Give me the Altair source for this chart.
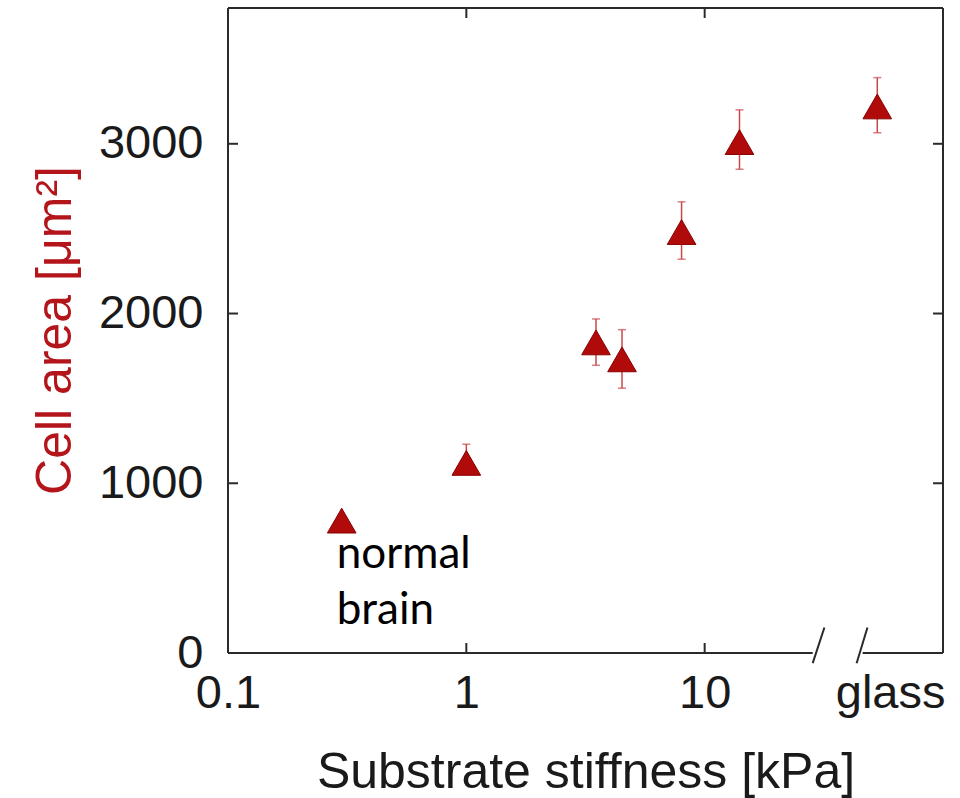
import altair as alt
import pandas as pd

# ---- data ----
stiffness = [0.3, 1, 3.5, 4.5, 8, 14, 53]          # kPa (last = glass)
cell_area = [780, 1120, 1830, 1730, 2480, 3010, 3220]
err_low   = [760, 1080, 1695, 1560, 2320, 2850, 3065]
err_high  = [800, 1230, 1968, 1905, 2658, 3200, 3390]

x_tick_values = [0.1, 1, 10, 60]
x_tick_labels = ["0.1", "1", "10", "glass"]
y_tick_values = [0, 1000, 2000, 3000]

X_DOMAIN = [0.1, 100]
Y_DOMAIN = [0, 3800]

# axis break (in kPa) and slash geometry (data units)
break_left, break_right = 28.4, 46
slash_x0 = [28.4, 43.4]
slash_x1 = [31.8, 48.2]
slash_y = [-60, 150]

annot_text = ["normal", "brain"]

W, H = 715, 645
RED = "#b00a0a"
FRAME = "#2a2a2a"

pts = pd.DataFrame({"x": stiffness, "y": cell_area, "lo": err_low, "hi": err_high})

# frame, axis break and inward ticks as segments
segs = []
segs.append((X_DOMAIN[0], X_DOMAIN[1], Y_DOMAIN[1], Y_DOMAIN[1]))  # top
segs.append((X_DOMAIN[0], X_DOMAIN[0], Y_DOMAIN[0], Y_DOMAIN[1]))  # left
segs.append((X_DOMAIN[1], X_DOMAIN[1], Y_DOMAIN[0], Y_DOMAIN[1]))  # right
segs.append((X_DOMAIN[0], break_left, 0, 0))                       # bottom left part
segs.append((break_right, X_DOMAIN[1], 0, 0))                      # bottom right part
for a, b in zip(slash_x0, slash_x1):
    segs.append((a, b, slash_y[0], slash_y[1]))
tick_len_px = 10
xfac = 10 ** (tick_len_px / (W / 3))
ylen = tick_len_px / H * (Y_DOMAIN[1] - Y_DOMAIN[0])
for v in y_tick_values[1:]:
    segs.append((X_DOMAIN[0], X_DOMAIN[0] * xfac, v, v))
    segs.append((X_DOMAIN[1] / xfac, X_DOMAIN[1], v, v))
for v in [1, 10]:
    segs.append((v, v, 0, ylen))
    segs.append((v, v, Y_DOMAIN[1] - ylen, Y_DOMAIN[1]))
seg_df = pd.DataFrame(segs, columns=["x", "x2", "y", "y2"])

label_map = " : ".join(
    [f"datum.value == {v} ? '{l}'" for v, l in zip(x_tick_values, x_tick_labels)]
) + " : ''"

xscale = alt.Scale(type="log", domain=X_DOMAIN, nice=False)
yscale = alt.Scale(domain=Y_DOMAIN, nice=False, zero=False)

x_axis = alt.Axis(
    values=x_tick_values, labelExpr=label_map, domain=False, ticks=False, grid=False,
    labelFont="Liberation Sans", labelFontSize=47, labelColor="#1a1a1a",
    labelPadding=17, labelFlush=False, labelOverlap=False, labelBound=False,
    title="Substrate stiffness [kPa]", titleFont="Liberation Sans", titleFontSize=50,
    titleFontWeight="normal", titleColor="#1a1a1a", titleY=134, titleBaseline="alphabetic",
)
y_axis = alt.Axis(
    values=y_tick_values, domain=False, ticks=False, grid=False, format="d",
    labelFont="Liberation Sans", labelFontSize=47, labelColor="#1a1a1a", labelPadding=25,
    title="Cell area [μm²]", titleFont="Liberation Sans", titleFontSize=50,
    titleFontWeight="normal", titleColor="#b3151b", titleX=-158, titleY=322,
    titleAngle=270, titleBaseline="alphabetic", titleAlign="center",
)

base = alt.Chart(pts)

points = base.mark_point(
    shape="triangle-up", filled=True, size=820, color=RED, stroke="#8a0000",
    strokeWidth=1, opacity=1,
).encode(x=alt.X("x:Q", scale=xscale, axis=x_axis), y=alt.Y("y:Q", scale=yscale, axis=y_axis))

err = base.mark_rule(color="#c8474a", strokeWidth=1.5).encode(
    x=alt.X("x:Q", scale=xscale), y=alt.Y("lo:Q", scale=yscale), y2="hi:Q"
)
cap_hi = base.mark_tick(color="#c8474a", orient="horizontal", size=8, thickness=1.5).encode(
    x=alt.X("x:Q", scale=xscale), y=alt.Y("hi:Q", scale=yscale)
)
cap_lo = base.mark_tick(color="#c8474a", orient="horizontal", size=8, thickness=1.5).encode(
    x=alt.X("x:Q", scale=xscale), y=alt.Y("lo:Q", scale=yscale)
)

frame = alt.Chart(seg_df).mark_rule(color=FRAME, strokeWidth=2).encode(
    x=alt.X("x:Q", scale=xscale), x2="x2:Q",
    y=alt.Y("y:Q", scale=yscale), y2="y2:Q",
)

annot = alt.Chart(pd.DataFrame({"x": [stiffness[0]], "y": [cell_area[0]], "t": [annot_text]})).mark_text(
    font="Lato", fontSize=44, color="black", align="left", baseline="alphabetic",
    dx=-5, dy=47, lineHeight=56,
).encode(x=alt.X("x:Q", scale=xscale), y=alt.Y("y:Q", scale=yscale), text="t")

chart = alt.layer(frame, err, cap_hi, cap_lo, points, annot).properties(
    width=W, height=H,
    autosize=alt.AutoSizeParams(type="none"),
    padding={"left": 228, "top": 8, "right": 17, "bottom": 145},
    background="white",
).configure_view(stroke=None)

chart.save("out.html", embed_options={"renderer": "svg", "actions": False})
